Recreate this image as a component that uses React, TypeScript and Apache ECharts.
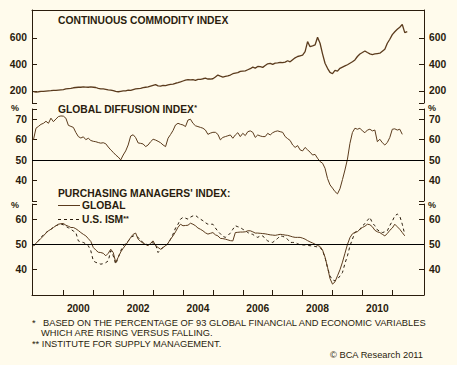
import React, { useEffect, useRef } from 'react';
import * as echarts from 'echarts';

// ---------- data (monthly, starting January 1999) ----------
const START_YEAR = 1999;
const X_MIN = 1998.95;
const X_MAX = 2012.06;

const yearTicks = [2000, 2001, 2002, 2003, 2004, 2005, 2006, 2007, 2008, 2009, 2010, 2011];
const yearLabels = [2000, 2002, 2004, 2006, 2008, 2010];

const cciTickLabels = [200, 400, 600];
const diffTickLabels = [40, 50, 60, 70];
const pmiTickLabels = [40, 50, 60];

// Continuous Commodity Index
const cci = [
  195, 192, 194, 197, 196, 198, 200, 202, 205, 204, 206, 208,
  210, 215, 218, 220, 224, 226, 228, 228, 230, 229, 228, 230,
  228, 226, 220, 216, 215, 212, 208, 206, 202, 196, 194, 197,
  200, 201, 206, 204, 210, 215, 218, 220, 225, 228, 230, 236,
  242, 248, 238, 236, 242, 240, 245, 250, 252, 258, 262, 268,
  275, 282, 286, 283, 285, 280, 288, 287, 292, 296, 290, 290,
  292, 305, 320, 312, 305, 310, 313, 320, 330, 335, 338, 348,
  350, 352, 360, 368, 380, 372, 385, 384, 378, 392, 405, 408,
  400, 410, 412, 416, 414, 418, 428, 420, 435, 450, 460, 465,
  470, 497, 572, 534, 540, 547, 605, 560, 480, 409, 371, 340,
  330, 355, 350, 371, 380, 389, 398, 409, 420, 434, 460, 479,
  490, 502, 490, 480, 475, 479, 482, 485, 500, 515, 560, 590,
  625, 647, 665, 681, 702, 640, 647,
];

// Global diffusion index (%)
const diffusion = [
  60, 65.6, 66.5, 67.5, 68, 69, 68, 70.5, 68.8, 70.1, 71.3, 71.6,
  71.5, 70.5, 67, 66.5, 66, 63.5, 61.5, 60.8, 61.4, 60, 60.7, 59.6,
  59.2, 59, 58.6, 58.3, 58.5, 58, 56.4, 55, 53.8, 52.5, 51.5, 50.1,
  52.5, 54.5, 57.4, 61.8, 62.4, 61, 58.4, 58.2, 57.9, 56.6, 57.4, 59,
  60.2, 59.8, 59.2, 58.5, 57.4, 56.6, 60.7, 62.5, 64.5, 67.2, 68, 67.5,
  67.2, 66.4, 69.6, 70, 68, 66.8, 66.4, 66, 65.6, 64.7, 62.6, 63.2,
  63.6, 63.6, 62.6, 59.9, 61.1, 61.5, 61.9, 62.3, 60.7, 62.3, 63.4, 61.5,
  63.1, 62, 63.9, 64.3, 63.6, 61.1, 62.3, 61.8, 61.5, 61.5, 63.1, 62.3,
  63.4, 64, 64.3, 63.9, 63.6, 61.5, 60.5, 59.6, 57.4, 56.2, 57.1, 55,
  54.5, 56.2, 55, 53.9, 52.5, 52.8, 50.9, 49.3, 48.5, 46, 41, 37.9,
  36.3, 34.6, 33.5, 36, 40.5, 45.2, 50.5, 58.2, 63.5, 65.6, 65.1, 65.6,
  64.3, 63.4, 64.7, 65.1, 64.3, 64.7, 59, 60.2, 58.5, 57.4, 58.6, 61.1,
  65.1, 65.3, 64.7, 65.1, 62.6,
];

// Purchasing managers' index: global
const pmiGlobal = [
  49.5, 50.5, 51.4, 52.4, 53.4, 54.5, 55.4, 56, 56.7, 57.4, 58, 58.2,
  58.3, 57.6, 57.2, 56.7, 56.7, 56.2, 55.5, 54.7, 54, 53.4, 52.3, 51.2,
  48.8, 47.8, 46.9, 46.8, 46.5, 45.5, 46.5, 48.1, 46.8, 42.9, 44.9, 47,
  48.5, 49.8, 51.2, 52.8, 54, 54.5, 52.1, 51.2, 50.5, 50, 49.5, 50.5,
  51.4, 49.5, 48.8, 48.1, 48.8, 49.5, 50.5, 52.1, 53.4, 55, 56.8, 58,
  57.4, 57.5, 57.6, 58.4, 58, 57.4, 56.5, 56, 55.4, 54.6, 54.1, 54.4,
  54.7, 53.8, 53.4, 52.4, 52.3, 52.1, 51.8, 51.5, 51.4, 54.7, 54.8, 54.9,
  54.9, 55, 55.4, 55.4, 55, 54.5, 54.5, 54.4, 54.3, 54.2, 54, 53.8,
  53.7, 53.6, 53.8, 54, 53.9, 53.7, 53.6, 53.3, 53, 52.8, 52.8, 52.8,
  52.5, 52.1, 51.5, 51, 50.6, 50.1, 49.6, 49.2, 47.8, 45, 41, 36.5,
  34.3, 35.2, 37.6, 40, 43, 46.5, 50, 52.7, 54.2, 54.8, 55, 56,
  56.7, 57.2, 58, 57.8, 57, 55.6, 55, 54.7, 54, 53.4, 54.3, 55.6,
  56.5, 58, 57, 56, 54.7, 53.4,
];

// Purchasing managers' index: U.S. ISM
const pmiIsm = [
  49.5, 50.1, 51.5, 52.8, 53.8, 54.7, 55.4, 56, 56.8, 57.4, 57.8, 58,
  57.8, 57.1, 56.6, 56, 55.3, 54.7, 51.4, 51, 50.8, 50.2, 49.5, 47.5,
  43.5, 42.9, 42.6, 42.2, 42.4, 42.8, 43.5, 47.5, 45.5, 42.2, 44.8, 47.5,
  49.4, 50.5, 51.4, 52.5, 53.4, 53, 52.8, 51.5, 50.8, 50.2, 49.8, 50.8,
  50.6, 50, 46.8, 48, 48.8, 49.4, 50.5, 52, 54.1, 56.5, 58, 60,
  60.7, 60.4, 60, 60.8, 61.3, 61.5, 60.7, 60, 59.4, 58.6, 58, 58,
  58, 56.5, 55.2, 54.2, 53.2, 52.8, 53.5, 54.5, 56, 57.4, 57, 56.7,
  56, 55.5, 54.7, 54.2, 54, 53.2, 52.8, 53.4, 53.4, 52.2, 51.4, 51,
  50.8, 51.6, 52.4, 53.4, 53.2, 52.8, 52, 50.8, 50.8, 50.8, 50.3, 49.8,
  49.8, 49.8, 49.6, 49.5, 49.4, 49.2, 49, 48.8, 47.5, 44.8, 40.8, 37.5,
  36, 35.6, 36.3, 37.5, 38.9, 42.5, 45.5, 49.4, 52.1, 54.7, 55.4, 56,
  57.4, 58.2, 59.5, 60.7, 58.5, 57.4, 55.8, 55.2, 54.7, 55, 55.4, 57.5,
  59.2, 61.3, 62, 61.2, 58, 54,
];

// ---------- styling ----------
const BG = '#fffbec';
const TXT = '#2a1c0c';
const LINE = '#5b3b1d';
const FONT = '"Liberation Sans", Arial, sans-serif';
const BOLD = `bold 10.3px ${FONT}`;
const NOTE = `9.3px ${FONT}`;

const monthly = (vals: number[]) => vals.map((v, i) => [START_YEAR + i / 12, v]);

const labelStyle = { color: TXT, fontFamily: FONT, fontWeight: 'bold' as const, fontSize: 10.3 };

function yAx(gridIndex: number, position: 'left' | 'right', min: number, max: number, labels: number[]) {
  return {
    type: 'value',
    gridIndex,
    position,
    min,
    max,
    axisLine: { show: true, onZero: false, lineStyle: { color: TXT, width: 1 } },
    axisTick: { show: true, inside: true, length: 5, customValues: [min, ...labels, max], lineStyle: { color: TXT, width: 1 } },
    axisLabel: { show: true, margin: 5, customValues: labels, ...labelStyle },
    splitLine: { show: false },
  };
}

const fifty = {
  silent: true,
  symbol: 'none',
  label: { show: false },
  lineStyle: { color: '#000000', width: 1, type: 'solid' },
  data: [{ yAxis: 50 }],
};

export default function App() {
  const ref = useRef<HTMLDivElement>(null);
  useEffect(() => {
    if (!ref.current) return;
    const chart = echarts.init(ref.current, undefined, { renderer: 'svg' });
    const grids = [
      { left: 32, right: 33, top: 10, height: 93 },
      { left: 32, right: 33, top: 109, height: 92 },
      { left: 32, right: 33, top: 204, height: 91 },
    ];
    chart.setOption({
      animation: false,
      backgroundColor: BG,
      grid: grids,
      xAxis: [
        {
          type: 'value', gridIndex: 0, min: X_MIN, max: X_MAX, position: 'top',
          axisLine: { show: true, onZero: false, lineStyle: { color: TXT, width: 1 } },
          axisTick: { show: false }, axisLabel: { show: false }, splitLine: { show: false },
        },
        { type: 'value', gridIndex: 1, min: X_MIN, max: X_MAX, show: false, splitLine: { show: false } },
        {
          type: 'value', gridIndex: 2, min: X_MIN, max: X_MAX, position: 'bottom',
          axisLine: { show: true, onZero: false, lineStyle: { color: TXT, width: 1 } },
          axisTick: { show: true, inside: true, length: 5, customValues: yearTicks, lineStyle: { color: TXT, width: 1 } },
          axisLabel: {
            show: true, margin: 8, customValues: yearLabels.map((y) => y + 0.5),
            formatter: (v: number) => String(Math.floor(v)), ...labelStyle,
          },
          splitLine: { show: false },
        },
      ],
      yAxis: [
        yAx(0, 'left', 109, 811, cciTickLabels),
        yAx(0, 'right', 109, 811, cciTickLabels),
        yAx(1, 'left', 30, 75, diffTickLabels),
        yAx(1, 'right', 30, 75, diffTickLabels),
        yAx(2, 'left', 30, 66, pmiTickLabels),
        yAx(2, 'right', 30, 66, pmiTickLabels),
      ],
      series: [
        {
          name: 'Continuous Commodity Index', type: 'line', xAxisIndex: 0, yAxisIndex: 0,
          data: monthly(cci), symbol: 'none', silent: true,
          lineStyle: { color: LINE, width: 1.3 },
        },
        {
          name: 'Global Diffusion Index', type: 'line', xAxisIndex: 1, yAxisIndex: 2,
          data: monthly(diffusion), symbol: 'none', silent: true,
          lineStyle: { color: LINE, width: 1 }, markLine: fifty,
        },
        {
          name: 'U.S. ISM', type: 'line', xAxisIndex: 2, yAxisIndex: 4,
          data: monthly(pmiIsm), symbol: 'none', silent: true,
          lineStyle: { color: '#2a1c0c', width: 1, type: [3, 3] },
        },
        {
          name: 'Global', type: 'line', xAxisIndex: 2, yAxisIndex: 4,
          data: monthly(pmiGlobal), symbol: 'none', silent: true,
          lineStyle: { color: LINE, width: 1 }, markLine: fifty,
        },
      ],
      graphic: [
        { type: 'text', x: 58, y: 20, style: { text: 'CONTINUOUS COMMODITY INDEX', font: BOLD, fill: TXT, verticalAlign: 'middle' } },
        {
          type: 'text', x: 58, y: 109,
          style: {
            text: '{a|GLOBAL DIFFUSION INDEX}{b|*}', fill: TXT, verticalAlign: 'middle',
            rich: { a: { font: BOLD, fill: TXT }, b: { font: `bold 7px ${FONT}`, fill: TXT, verticalAlign: 'top' } },
          },
        },
        { type: 'text', x: 58, y: 193.5, style: { text: "PURCHASING MANAGERS' INDEX:", font: BOLD, fill: TXT, verticalAlign: 'middle' } },
        { type: 'line', shape: { x1: 58, y1: 205.5, x2: 80, y2: 205.5 }, style: { stroke: LINE, lineWidth: 1 } },
        { type: 'text', x: 82, y: 205.5, style: { text: 'GLOBAL', font: BOLD, fill: TXT, verticalAlign: 'middle' } },
        { type: 'line', shape: { x1: 58, y1: 219.5, x2: 80, y2: 219.5 }, style: { stroke: TXT, lineWidth: 1, lineDash: [3, 3] } },
        {
          type: 'text', x: 82, y: 219.5,
          style: {
            text: '{a|U.S. ISM}{b|**}', fill: TXT, verticalAlign: 'middle',
            rich: { a: { font: BOLD, fill: TXT }, b: { font: `bold 7px ${FONT}`, fill: TXT, verticalAlign: 'top' } },
          },
        },
        { type: 'text', x: 11, y: 108, style: { text: '%', font: `bold 9px ${FONT}`, fill: TXT, verticalAlign: 'middle' } },
        { type: 'text', x: 428, y: 108, style: { text: '%', font: `bold 9px ${FONT}`, fill: TXT, verticalAlign: 'middle' } },
        { type: 'text', x: 11, y: 205, style: { text: '%', font: `bold 9px ${FONT}`, fill: TXT, verticalAlign: 'middle' } },
        { type: 'text', x: 428, y: 205, style: { text: '%', font: `bold 9px ${FONT}`, fill: TXT, verticalAlign: 'middle' } },
        { type: 'text', x: 32, y: 322.7, style: { text: '*', font: NOTE, fill: TXT, verticalAlign: 'middle' } },
        { type: 'text', x: 43, y: 322.7, style: { text: 'BASED ON THE PERCENTAGE OF 93 GLOBAL FINANCIAL AND ECONOMIC VARIABLES', font: NOTE, fill: TXT, verticalAlign: 'middle' } },
        { type: 'text', x: 41, y: 332.5, style: { text: 'WHICH ARE RISING VERSUS FALLING.', font: NOTE, fill: TXT, verticalAlign: 'middle' } },
        { type: 'text', x: 32, y: 343.5, style: { text: '** INSTITUTE FOR SUPPLY MANAGEMENT.', font: NOTE, fill: TXT, verticalAlign: 'middle' } },
        { type: 'text', x: 423, y: 354.5, style: { text: '© BCA Research 2011', font: NOTE, fill: TXT, align: 'right', verticalAlign: 'middle' } },
      ],
    });
    return () => chart.dispose();
  }, []);
  return (
    <div style={{ position: 'fixed', left: 0, top: 0, width: 457, height: 365, background: BG }}>
      <div ref={ref} style={{ width: 457, height: 365 }} />
    </div>
  );
}
